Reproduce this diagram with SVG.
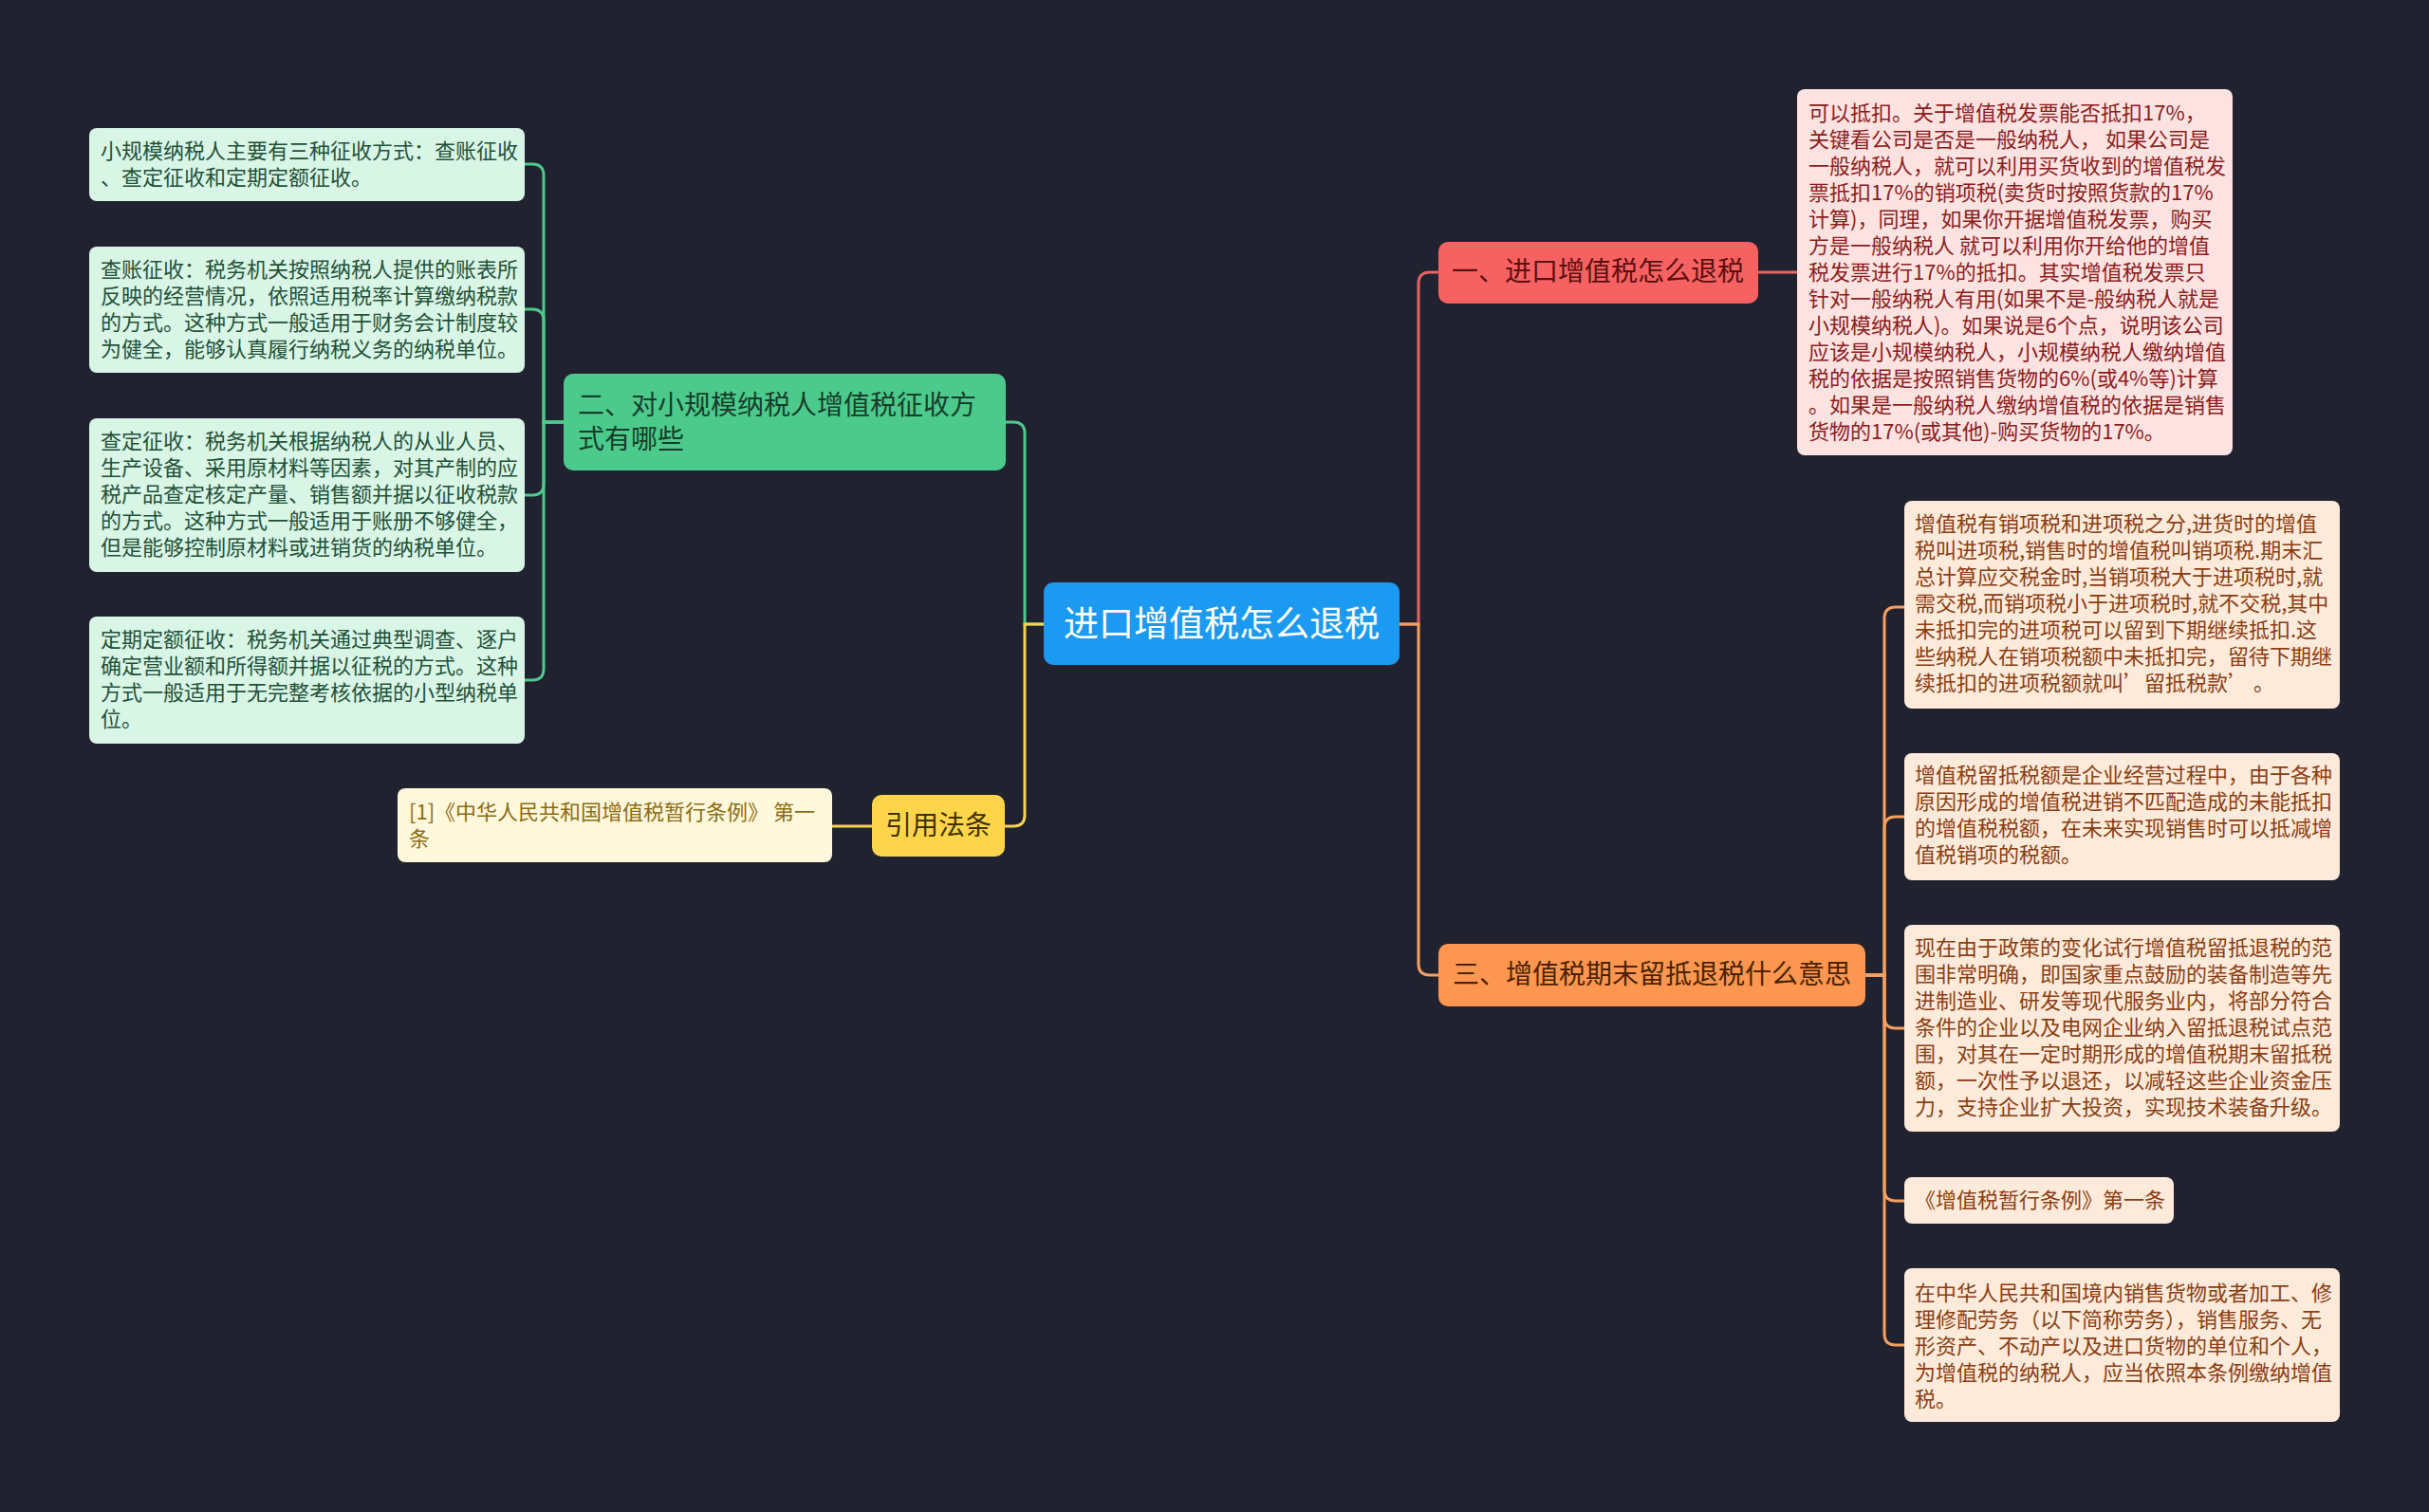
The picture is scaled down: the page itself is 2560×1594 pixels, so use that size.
<svg xmlns="http://www.w3.org/2000/svg" width="2560" height="1594" viewBox="0 0 2560 1594">
<style>
text{font-family:"Noto Sans CJK SC","Noto Sans",sans-serif;dominant-baseline:central;transform:translateY(-3px)}
.leaf{font-size:22px}
.br{font-size:28px}
.cg{fill:none;stroke:#4cca8c;stroke-width:3}
.cr{fill:none;stroke:#e56464;stroke-width:3}
.co{fill:none;stroke:#f5a060;stroke-width:3}
.cy{fill:none;stroke:#f7d152;stroke-width:3}
</style>
<rect width="2560" height="1594" fill="#20232f"/>
<g id="connectors">
<path class="cr" d="M1475 658 H1495 V299 Q1495 287 1507 287 H1516"/>
<path class="cr" d="M1853 287 H1894"/>
<path class="co" d="M1475 658 H1495 V1016 Q1495 1028 1507 1028 H1516"/>
<path class="co" d="M1966 1028 H1986 V652 Q1986 640 1998 640 H2007"/>
<path class="co" d="M1966 1028 H1986 V873 Q1986 861 1998 861 H2007"/>
<path class="co" d="M1966 1028 H1986 V1072 Q1986 1084 1998 1084 H2007"/>
<path class="co" d="M1966 1028 H1986 V1254 Q1986 1266 1998 1266 H2007"/>
<path class="co" d="M1966 1028 H1986 V1406 Q1986 1418 1998 1418 H2007"/>
<path class="cg" d="M1100 658 H1080 V457 Q1080 445 1068 445 H1060"/>
<path class="cg" d="M594 445 H573 V185 Q573 173 561 173 H553"/>
<path class="cg" d="M594 445 H573 V338 Q573 326 561 326 H553"/>
<path class="cg" d="M594 445 H573 V510 Q573 522 561 522 H553"/>
<path class="cg" d="M594 445 H573 V705 Q573 717 561 717 H553"/>
<path class="cy" d="M1100 658 H1080 V859 Q1080 871 1068 871 H1059"/>
<path class="cy" d="M919 871 H877"/>
</g>
<g id="root">
<rect x="1100" y="614" width="375" height="87" rx="10" fill="#1c9af1"/>
<text x="1287.5" y="658" font-size="37" fill="#ffffff" text-anchor="middle">进口增值税怎么退税</text>
</g>
<g id="b1">
<rect x="1516" y="255" width="337" height="65" rx="10" fill="#f66262"/>
<text class="br" x="1530" y="287" fill="#5a0f0f">一、进口增值税怎么退税</text>
</g>
<g id="b1-l1">
<rect x="1894" y="94" width="459" height="386" rx="8" fill="#fde2e2"/>
<text class="leaf" fill="#8c1c1c">
<tspan x="1906" y="120">可以抵扣。关于增值税发票能否抵扣17%，</tspan>
<tspan x="1906" y="148">关键看公司是否是一般纳税人， 如果公司是</tspan>
<tspan x="1906" y="176">一般纳税人，就可以利用买货收到的增值税发</tspan>
<tspan x="1906" y="204">票抵扣17%的销项税(卖货时按照货款的17%</tspan>
<tspan x="1906" y="232">计算)，同理，如果你开据增值税发票，购买</tspan>
<tspan x="1906" y="260">方是一般纳税人 就可以利用你开给他的增值</tspan>
<tspan x="1906" y="288">税发票进行17%的抵扣。其实增值税发票只</tspan>
<tspan x="1906" y="316">针对一般纳税人有用(如果不是-般纳税人就是</tspan>
<tspan x="1906" y="344">小规模纳税人)。如果说是6个点，说明该公司</tspan>
<tspan x="1906" y="372">应该是小规模纳税人，小规模纳税人缴纳增值</tspan>
<tspan x="1906" y="400">税的依据是按照销售货物的6%(或4%等)计算</tspan>
<tspan x="1906" y="428">。如果是一般纳税人缴纳增值税的依据是销售</tspan>
<tspan x="1906" y="456">货物的17%(或其他)-购买货物的17%。</tspan>
</text>
</g>
<g id="b3">
<rect x="1516" y="995" width="450" height="66" rx="10" fill="#fc9650"/>
<text class="br" x="1531" y="1028" fill="#4a2200">三、增值税期末留抵退税什么意思</text>
</g>
<g id="b3-l1">
<rect x="2007" y="528" width="459" height="219" rx="8" fill="#fdeadb"/>
<text class="leaf" fill="#8b3d12">
<tspan x="2018" y="553">增值税有销项税和进项税之分,进货时的增值</tspan>
<tspan x="2018" y="581">税叫进项税,销售时的增值税叫销项税.期末汇</tspan>
<tspan x="2018" y="609">总计算应交税金时,当销项税大于进项税时,就</tspan>
<tspan x="2018" y="637">需交税,而销项税小于进项税时,就不交税,其中</tspan>
<tspan x="2018" y="665">未抵扣完的进项税可以留到下期继续抵扣.这</tspan>
<tspan x="2018" y="693">些纳税人在销项税额中未抵扣完，留待下期继</tspan>
<tspan x="2018" y="721">续抵扣的进项税额就叫’留抵税款’ 。</tspan>
</text>
</g>
<g id="b3-l2">
<rect x="2007" y="794" width="459" height="134" rx="8" fill="#fdeadb"/>
<text class="leaf" fill="#8b3d12">
<tspan x="2018" y="818">增值税留抵税额是企业经营过程中，由于各种</tspan>
<tspan x="2018" y="846">原因形成的增值税进销不匹配造成的未能抵扣</tspan>
<tspan x="2018" y="874">的增值税税额，在未来实现销售时可以抵减增</tspan>
<tspan x="2018" y="902">值税销项的税额。</tspan>
</text>
</g>
<g id="b3-l3">
<rect x="2007" y="975" width="459" height="218" rx="8" fill="#fdeadb"/>
<text class="leaf" fill="#8b3d12">
<tspan x="2018" y="1000">现在由于政策的变化试行增值税留抵退税的范</tspan>
<tspan x="2018" y="1028">围非常明确，即国家重点鼓励的装备制造等先</tspan>
<tspan x="2018" y="1056">进制造业、研发等现代服务业内，将部分符合</tspan>
<tspan x="2018" y="1084">条件的企业以及电网企业纳入留抵退税试点范</tspan>
<tspan x="2018" y="1112">围，对其在一定时期形成的增值税期末留抵税</tspan>
<tspan x="2018" y="1140">额，一次性予以退还，以减轻这些企业资金压</tspan>
<tspan x="2018" y="1168">力，支持企业扩大投资，实现技术装备升级。</tspan>
</text>
</g>
<g id="b3-l4">
<rect x="2007" y="1241" width="284" height="49" rx="8" fill="#fdeadb"/>
<text class="leaf" x="2018" y="1266" fill="#8b3d12">《增值税暂行条例》第一条</text>
</g>
<g id="b3-l5">
<rect x="2007" y="1337" width="459" height="162" rx="8" fill="#fdeadb"/>
<text class="leaf" fill="#8b3d12">
<tspan x="2018" y="1364">在中华人民共和国境内销售货物或者加工、修</tspan>
<tspan x="2018" y="1392">理修配劳务（以下简称劳务），销售服务、无</tspan>
<tspan x="2018" y="1420">形资产、不动产以及进口货物的单位和个人，</tspan>
<tspan x="2018" y="1448">为增值税的纳税人，应当依照本条例缴纳增值</tspan>
<tspan x="2018" y="1476">税。</tspan>
</text>
</g>
<g id="b2">
<rect x="594" y="394" width="466" height="102" rx="10" fill="#4cca8c"/>
<text class="br" fill="#163d2a">
<tspan x="609" y="428">二、对小规模纳税人增值税征收方</tspan>
<tspan x="609" y="464">式有哪些</tspan>
</text>
</g>
<g id="b2-l1">
<rect x="94" y="135" width="459" height="77" rx="8" fill="#d8f5e6"/>
<text class="leaf" fill="#1f5038">
<tspan x="106" y="160">小规模纳税人主要有三种征收方式：查账征收</tspan>
<tspan x="106" y="188">、查定征收和定期定额征收。</tspan>
</text>
</g>
<g id="b2-l2">
<rect x="94" y="260" width="459" height="133" rx="8" fill="#d8f5e6"/>
<text class="leaf" fill="#1f5038">
<tspan x="106" y="285">查账征收：税务机关按照纳税人提供的账表所</tspan>
<tspan x="106" y="313">反映的经营情况，依照适用税率计算缴纳税款</tspan>
<tspan x="106" y="341">的方式。这种方式一般适用于财务会计制度较</tspan>
<tspan x="106" y="369">为健全，能够认真履行纳税义务的纳税单位。</tspan>
</text>
</g>
<g id="b2-l3">
<rect x="94" y="441" width="459" height="162" rx="8" fill="#d8f5e6"/>
<text class="leaf" fill="#1f5038">
<tspan x="106" y="466">查定征收：税务机关根据纳税人的从业人员、</tspan>
<tspan x="106" y="494">生产设备、采用原材料等因素，对其产制的应</tspan>
<tspan x="106" y="522">税产品查定核定产量、销售额并据以征收税款</tspan>
<tspan x="106" y="550">的方式。这种方式一般适用于账册不够健全，</tspan>
<tspan x="106" y="578">但是能够控制原材料或进销货的纳税单位。</tspan>
</text>
</g>
<g id="b2-l4">
<rect x="94" y="650" width="459" height="134" rx="8" fill="#d8f5e6"/>
<text class="leaf" fill="#1f5038">
<tspan x="106" y="675">定期定额征收：税务机关通过典型调查、逐户</tspan>
<tspan x="106" y="703">确定营业额和所得额并据以征税的方式。这种</tspan>
<tspan x="106" y="731">方式一般适用于无完整考核依据的小型纳税单</tspan>
<tspan x="106" y="759">位。</tspan>
</text>
</g>
<g id="b4">
<rect x="919" y="838" width="140" height="65" rx="10" fill="#fdd54a"/>
<text class="br" x="989" y="871" fill="#3f3000" text-anchor="middle">引用法条</text>
</g>
<g id="b4-l1">
<rect x="419" y="831" width="458" height="78" rx="8" fill="#fff8dc"/>
<text class="leaf" fill="#8c6c14">
<tspan x="431" y="857">[1]《中华人民共和国增值税暂行条例》 第一</tspan>
<tspan x="431" y="885">条</tspan>
</text>
</g>
</svg>
